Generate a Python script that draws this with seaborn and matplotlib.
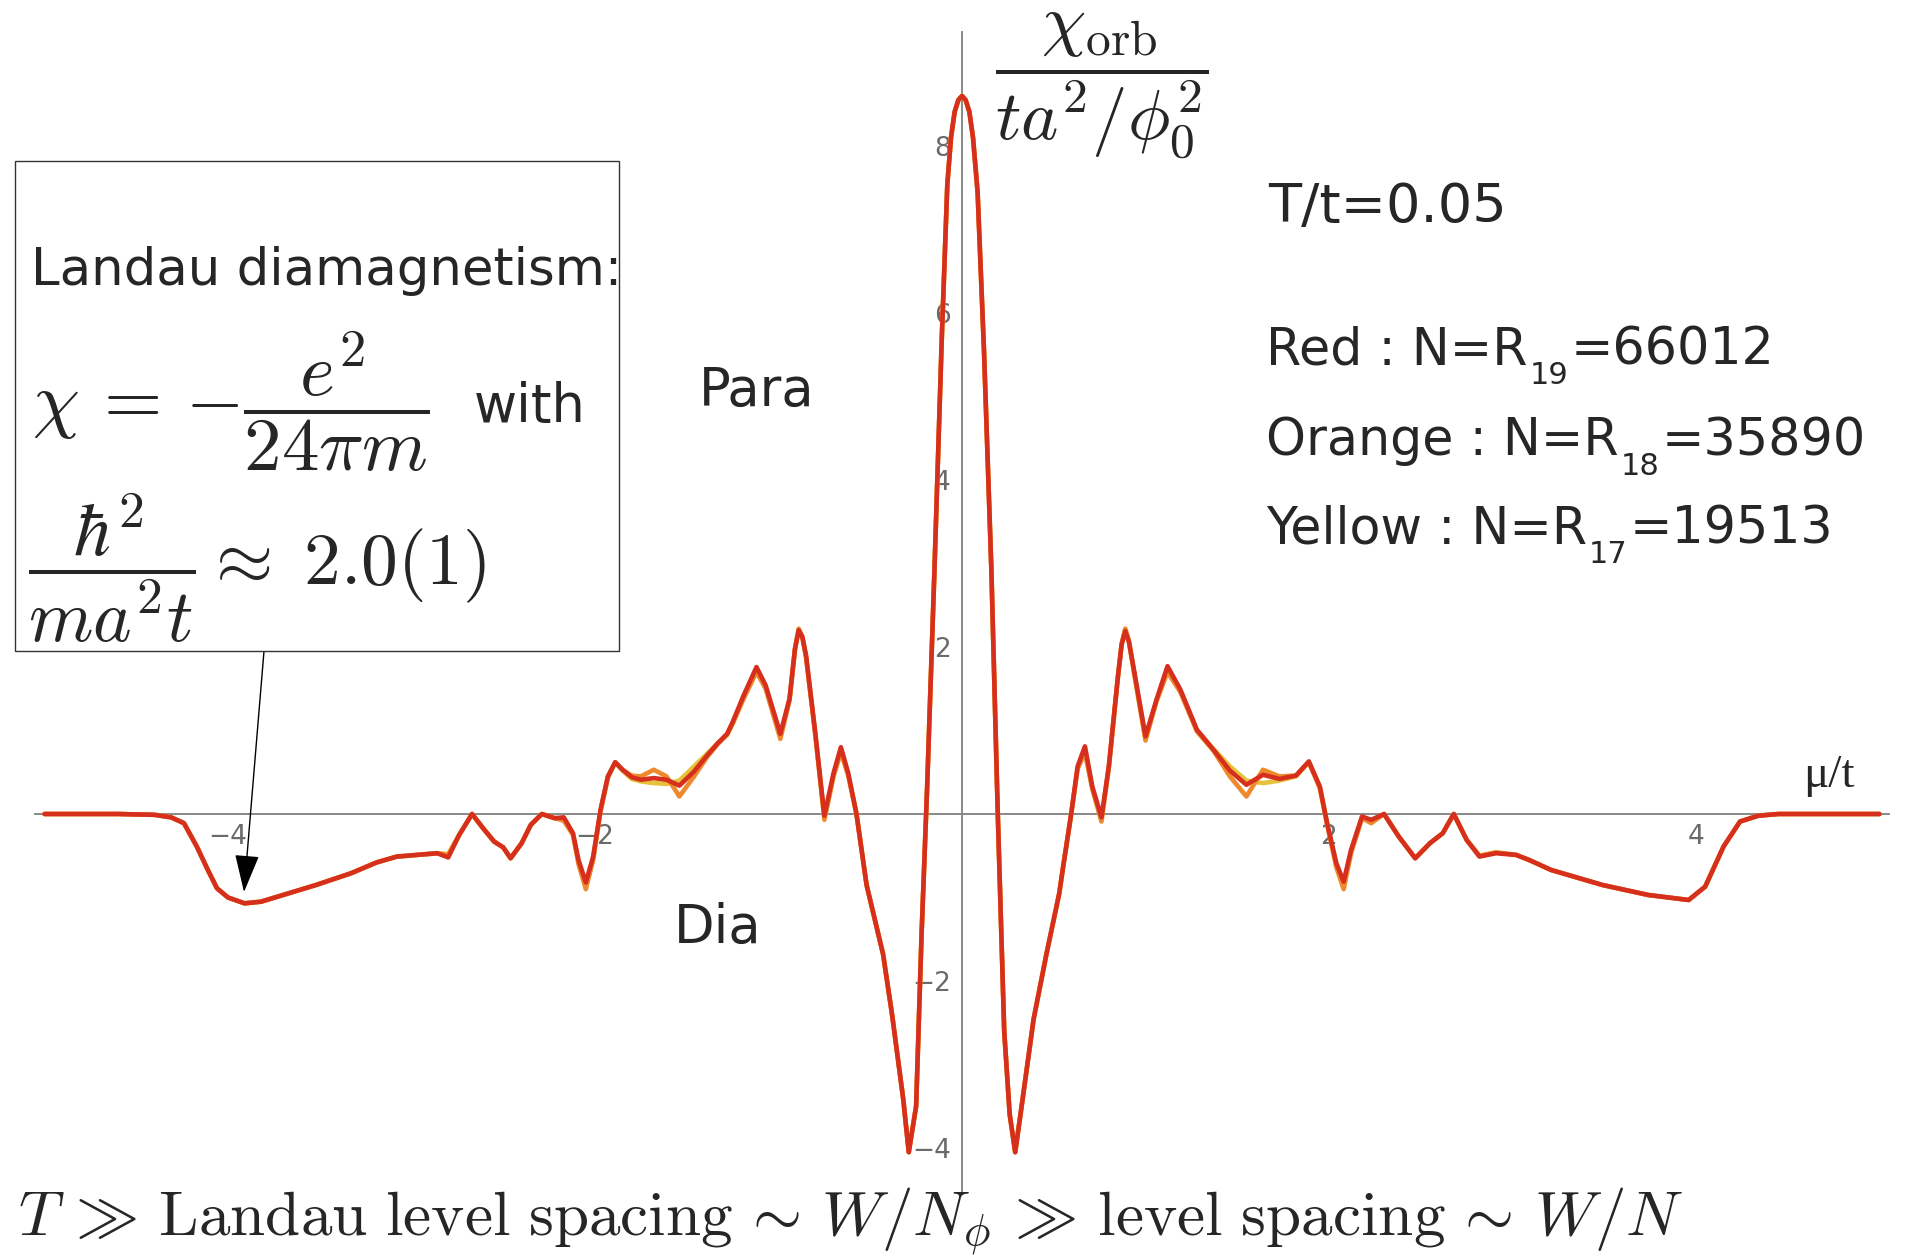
import numpy as np
import pandas as pd
import matplotlib
matplotlib.use("Agg")
import matplotlib.pyplot as plt
import seaborn as sns
from matplotlib.patches import Rectangle
from matplotlib.ticker import FixedLocator

# ---------------- data ----------------
mu = [-5.00, -4.60, -4.40, -4.31, -4.24, -4.17, -4.11, -4.06, -4.00, -3.91,
      -3.82, -3.70, -3.52, -3.33, -3.19, -3.08, -2.97, -2.86, -2.80, -2.74,
      -2.67, -2.61, -2.55, -2.50, -2.46, -2.40, -2.35, -2.29, -2.22, -2.17,
      -2.12, -2.09, -2.05, -2.01, -1.97, -1.93, -1.89, -1.85, -1.80, -1.75,
      -1.68, -1.61, -1.54, -1.46, -1.39, -1.33, -1.28, -1.25, -1.19, -1.12,
      -1.07, -0.99, -0.94, -0.91, -0.89, -0.87, -0.85, -0.80, -0.75, -0.70, -0.66, -0.62,
      -0.575, -0.52, -0.43, -0.38, -0.32, -0.29, -0.25, -0.22, -0.19, -0.15,
      -0.11, -0.08, -0.06, -0.04, -0.02, 0.00, 0.02, 0.04, 0.06, 0.085,
      0.12, 0.16, 0.195, 0.23, 0.26, 0.29, 0.33, 0.39, 0.46, 0.53,
      0.55, 0.595, 0.63, 0.67, 0.71, 0.76, 0.80, 0.85, 0.87, 0.89, 0.91, 0.94,
      1.00, 1.06, 1.12, 1.19, 1.28, 1.37, 1.46, 1.55, 1.64, 1.73,
      1.82, 1.89, 1.95, 1.99, 2.04, 2.08, 2.12, 2.18, 2.23, 2.30,
      2.38, 2.47, 2.55, 2.62, 2.68, 2.75, 2.82, 2.91, 3.02, 3.09,
      3.21, 3.49, 3.74, 3.96, 4.05, 4.15, 4.24, 4.34, 4.45, 5.00]

chi_red = [0.00, 0.00, -0.01, -0.04, -0.11, -0.39, -0.67, -0.89, -1.00, -1.07,
           -1.05, -0.97, -0.85, -0.71, -0.58, -0.51, -0.49, -0.47, -0.52, -0.25,
           0.00, -0.17, -0.33, -0.40, -0.53, -0.35, -0.13, 0.00, -0.05, -0.04,
           -0.23, -0.55, -0.82, -0.51, 0.05, 0.45, 0.62, 0.53, 0.44, 0.41,
           0.43, 0.41, 0.34, 0.51, 0.70, 0.85, 0.96, 1.10, 1.42, 1.76,
           1.54, 0.96, 1.38, 1.98, 2.20, 2.12, 1.90, 0.98, -0.02, 0.49, 0.80, 0.49,
           0.00, -0.85, -1.68, -2.42, -3.42, -4.05, -3.50, -1.42, 0.32, 2.93,
           5.71, 7.54, 8.10, 8.41, 8.55, 8.60, 8.55, 8.41, 8.10, 7.45,
           5.54, 2.93, 0.00, -2.60, -3.60, -4.05, -3.42, -2.46, -1.68, -0.95,
           -0.65, 0.00, 0.57, 0.81, 0.33, -0.04, 0.57, 1.65, 2.03, 2.19, 2.06, 1.69,
           0.93, 1.37, 1.77, 1.49, 1.01, 0.77, 0.52, 0.35, 0.47, 0.42,
           0.46, 0.63, 0.33, -0.11, -0.59, -0.81, -0.43, -0.03, -0.07, 0.00,
           -0.27, -0.53, -0.35, -0.23, 0.00, -0.31, -0.51, -0.47, -0.49, -0.55,
           -0.67, -0.85, -0.97, -1.03, -0.87, -0.39, -0.09, -0.02, 0.00, 0.00]

chi_orange = [0.00, 0.00, -0.01, -0.04, -0.11, -0.39, -0.67, -0.89, -1.00, -1.07,
              -1.05, -0.97, -0.85, -0.71, -0.58, -0.51, -0.49, -0.47, -0.49, -0.25,
              0.00, -0.17, -0.33, -0.40, -0.53, -0.35, -0.13, 0.00, -0.05, -0.08,
              -0.25, -0.60, -0.90, -0.55, 0.03, 0.43, 0.62, 0.53, 0.46, 0.45,
              0.53, 0.45, 0.21, 0.45, 0.68, 0.84, 0.95, 1.08, 1.38, 1.70,
              1.50, 0.90, 1.36, 1.98, 2.22, 2.12, 1.88, 0.96, -0.07, 0.45, 0.74, 0.46,
              0.00, -0.85, -1.68, -2.42, -3.42, -4.05, -3.50, -1.42, 0.32, 2.93,
              5.71, 7.54, 8.10, 8.41, 8.55, 8.60, 8.55, 8.41, 8.10, 7.45,
              5.54, 2.93, 0.00, -2.60, -3.60, -4.05, -3.42, -2.46, -1.68, -0.95,
              -0.65, 0.00, 0.54, 0.74, 0.30, -0.09, 0.55, 1.65, 2.04, 2.22, 2.07, 1.66,
              0.88, 1.35, 1.70, 1.46, 0.99, 0.76, 0.45, 0.21, 0.53, 0.45,
              0.46, 0.62, 0.31, -0.13, -0.64, -0.90, -0.47, -0.05, -0.11, 0.00,
              -0.27, -0.53, -0.35, -0.23, 0.00, -0.31, -0.50, -0.46, -0.49, -0.55,
              -0.67, -0.85, -0.97, -1.03, -0.87, -0.39, -0.09, -0.02, 0.00, 0.00]

chi_yellow = [0.00, 0.00, -0.01, -0.04, -0.11, -0.39, -0.67, -0.89, -1.00, -1.07,
              -1.05, -0.97, -0.85, -0.71, -0.58, -0.51, -0.49, -0.47, -0.48, -0.25,
              0.00, -0.17, -0.33, -0.40, -0.53, -0.35, -0.13, 0.00, -0.05, -0.06,
              -0.24, -0.57, -0.86, -0.53, 0.04, 0.44, 0.62, 0.52, 0.42, 0.39,
              0.37, 0.36, 0.40, 0.57, 0.72, 0.85, 0.95, 1.09, 1.40, 1.72,
              1.52, 0.92, 1.37, 1.98, 2.21, 2.12, 1.89, 0.97, -0.05, 0.47, 0.76, 0.47,
              0.00, -0.85, -1.68, -2.42, -3.42, -4.05, -3.50, -1.42, 0.32, 2.93,
              5.71, 7.54, 8.10, 8.41, 8.55, 8.60, 8.55, 8.41, 8.10, 7.45,
              5.54, 2.93, 0.00, -2.60, -3.60, -4.05, -3.42, -2.46, -1.68, -0.95,
              -0.65, 0.00, 0.55, 0.76, 0.31, -0.07, 0.56, 1.65, 2.03, 2.21, 2.06, 1.67,
              0.90, 1.36, 1.72, 1.47, 1.00, 0.78, 0.57, 0.40, 0.37, 0.40,
              0.45, 0.62, 0.32, -0.12, -0.61, -0.86, -0.45, -0.04, -0.09, 0.00,
              -0.27, -0.53, -0.35, -0.23, 0.00, -0.31, -0.50, -0.46, -0.49, -0.55,
              -0.67, -0.85, -0.97, -1.03, -0.87, -0.39, -0.09, -0.02, 0.00, 0.00]

series_names = ["Yellow", "Orange", "Red"]
series_colors = ["#e6c23a", "#ef8a2c", "#d62f1d"]

x_major = [-4, -2, 2, 4]
y_major = [-4, -2, 2, 4, 6, 8]

legend_lines = [("Red : N=R", "19", "=66012"),
                ("Orange : N=R", "18", "=35890"),
                ("Yellow : N=R", "17", "=19513")]

assert len(mu) == len(chi_red) == len(chi_orange) == len(chi_yellow)

# ---------------- figure ----------------
W, H = 1915, 1256
sns.set_style("white")
plt.rcParams["font.family"] = ["DejaVu Sans"]

fig = plt.figure(figsize=(W / 100, H / 100), dpi=100)
fig.patch.set_facecolor("white")
ax = fig.add_axes([0, 0, 1, 1])
ax.set_facecolor("white")

df = pd.concat([
    pd.DataFrame({"mu": mu, "chi": vals, "series": name})
    for name, vals in zip(series_names, [chi_yellow, chi_orange, chi_red])
])
sns.lineplot(data=df, x="mu", y="chi", hue="series", hue_order=series_names,
             palette=series_colors, estimator=None, sort=False, lw=3.3,
             legend=False, ax=ax)
for ln in ax.lines:
    ln.set_solid_joinstyle("round")
    ln.set_solid_capstyle("round")

# axes geometry: origin at pixel (962, 814), 183.5 px per x unit, 83.5 px per y unit
x0, y0, sx, sy = 962.0, 814.0, 183.5, 83.5
ax.set_xlim(-x0 / sx, (W - x0) / sx)
ax.set_ylim((y0 - H) / sy, y0 / sy)
ax.set_xlabel("")
ax.set_ylabel("")

axis_col = "#808080"
for s in ["top", "right"]:
    ax.spines[s].set_visible(False)
ax.spines["left"].set_position(("data", 0))
ax.spines["bottom"].set_position(("data", 0))
ax.spines["left"].set_bounds(-4.55, 9.37)
ax.spines["bottom"].set_bounds(-5.05, 5.05)
for s in ["left", "bottom"]:
    ax.spines[s].set_color(axis_col)
    ax.spines[s].set_linewidth(1.3)
    ax.spines[s].set_zorder(0.5)

ax.xaxis.set_major_locator(FixedLocator(x_major))
ax.yaxis.set_major_locator(FixedLocator(y_major))
ax.xaxis.set_minor_locator(FixedLocator([v / 2 for v in range(-10, 11) if v % 4 != 0]))
ax.yaxis.set_minor_locator(FixedLocator([v / 2 for v in range(-9, 19) if v % 4 != 0]))
ax.tick_params(axis="both", which="major", direction="in", length=6.5, width=1.2,
               color=axis_col, labelcolor="#6a6a6a", labelsize=19)
ax.tick_params(axis="both", which="minor", direction="in", length=3.2, width=1.0,
               color=axis_col)
ax.tick_params(axis="x", which="major", pad=7)
ax.tick_params(axis="y", which="major", pad=8)
ax.grid(False)


def fx(px):
    return px / W


def fy(py):
    return 1 - py / H


# axis labels
fig.text(fx(1829), fy(776), "\u03bc/t", fontsize=34, family="Liberation Serif",
         ha="center", va="center")
fig.text(fx(1102), fy(86), r"$\dfrac{\chi_{\mathrm{orb}}}{ta^2/\phi_0^2}$",
         fontsize=51, math_fontfamily="cm", ha="center", va="center")

# annotations on the right
fig.text(fx(1268), fy(222), "T/t=0.05", fontsize=39, ha="left", va="baseline")

fig.canvas.draw()
renderer = fig.canvas.get_renderer()
baselines = [364, 455, 543]
for (pre, sub, post), base in zip(legend_lines, baselines):
    t1 = fig.text(fx(1266), fy(base), pre, fontsize=36.5, ha="left", va="baseline")
    bb = t1.get_window_extent(renderer)
    t2 = fig.text(bb.x1 / W + 2 / W, fy(base + 20), sub, fontsize=22,
                  ha="left", va="baseline")
    bb2 = t2.get_window_extent(renderer)
    fig.text(bb2.x1 / W + 2 / W, fy(base), post, fontsize=36.5, ha="left",
             va="baseline")

fig.text(fx(757), fy(391), "Para", fontsize=38, ha="center", va="center")
fig.text(fx(718), fy(928), "Dia", fontsize=38, ha="center", va="center")

# Landau box
fig.patches.append(Rectangle((fx(15), fy(651)), (619 - 15) / W, (651 - 161) / H,
                             transform=fig.transFigure, facecolor="white",
                             edgecolor="#333333", lw=1.0, zorder=3))
fig.text(fx(31), fy(271), "Landau diamagnetism:", fontsize=37, ha="left",
         va="center", zorder=4)
fig.text(fx(32), fy(402), r"$\chi\,=\,{-}\dfrac{e^2}{24\pi m}$", fontsize=54,
         math_fontfamily="cm", ha="left", va="center", zorder=4)
fig.text(fx(474), fy(407), "with", fontsize=38, ha="left", va="center", zorder=4)
fig.text(fx(28), fy(568), r"$\dfrac{\hbar^2}{ma^2t}\approx\;2.0(1)$", fontsize=53,
         math_fontfamily="cm", ha="left", va="center", zorder=4)

ax.annotate("", xy=(244, H - 892), xycoords="figure pixels",
            xytext=(264, H - 651), textcoords="figure pixels",
            arrowprops=dict(arrowstyle="-|>,head_length=1.7,head_width=0.55",
                            mutation_scale=14, lw=1.0, color="black",
                            shrinkA=0, shrinkB=0))

# bottom line
fig.text(fx(18), fy(1222),
         r"$T\,\gg\,\mathrm{Landau\ level\ spacing}\,\sim\,W/N_\phi\,\gg\,\mathrm{level\ spacing}\,\sim\,W/N$",
         fontsize=45.5, math_fontfamily="cm", ha="left", va="center")

fig.savefig("out.png", dpi=100, facecolor="white")
